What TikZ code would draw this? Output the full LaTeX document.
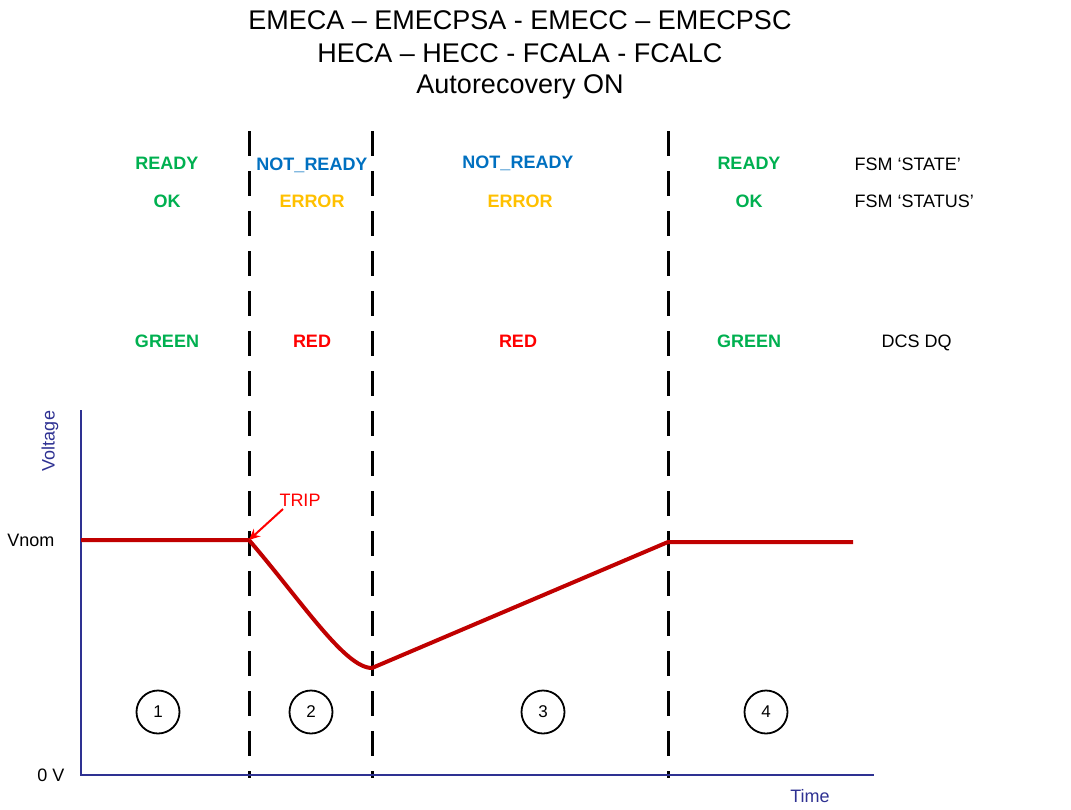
\documentclass[tikz,border=0pt]{standalone}
\usepackage{fontspec}
\setmainfont{Liberation Sans}
\usepackage{xcolor}
\usetikzlibrary{arrows.meta,positioning,calc}
\definecolor{stgreen}{HTML}{00B050}
\definecolor{stblue}{HTML}{0070C0}
\definecolor{storange}{HTML}{FFC000}
\definecolor{stred}{HTML}{FF0000}
\definecolor{curvered}{HTML}{C00000}
\definecolor{axisblue}{HTML}{2E3192}

\begin{document}
\begin{tikzpicture}[
    x=1pt, y=-1pt,
    title/.style={font=\fontsize{27}{30}\selectfont, text=black},
    state/.style={font=\fontsize{18}{20}\selectfont\bfseries},
    legend/.style={font=\fontsize{18}{20}\selectfont, anchor=west},
    axlabel/.style={font=\fontsize{18}{20}\selectfont},
    phase/.style={circle, draw, line width=1.8pt, minimum size=43pt, inner sep=0pt, font=\fontsize{17}{18}\selectfont},
    divider/.style={line width=3pt, dash pattern=on 25pt off 15pt},
    volt/.style={curvered, line width=4pt, line join=round},
    arrow/.style={-{Stealth[length=11pt, width=10pt]}}
]
    \useasboundingbox (0,0) rectangle (1071,809);

    % title
    \node[title] (t1) at (520,20) {EMECA – EMECPSA - EMECC – EMECPSC};
    \node[title] (t2) at (520,53) {HECA – HECC - FCALA - FCALC};
    \node[title] (t3) at (520,87) {Autorecovery ON};

    % phase dividers
    \coordinate (d1top) at (249,131); \coordinate (d1bot) at (249,778);
    \coordinate (d2top) at (372,131); \coordinate (d2bot) at (372,778);
    \coordinate (d3top) at (668,131); \coordinate (d3bot) at (668,778);
    \draw[divider] (d1top) -- (d1bot);
    \draw[divider] (d2top) -- (d2bot);
    \draw[divider] (d3top) -- (d3bot);

    % FSM state, status and DQ
    \node[state, text=stgreen] (st1) at (167,163) {READY};
    \node[state, text=stgreen] (ss1) at (167,201) {OK};
    \node[state, text=stgreen] (dq1) at (167,341) {GREEN};
    \node[state, text=stblue] (st2) at (312,165) {NOT\_READY};
    \node[state, text=storange] (ss2) at (312,201) {ERROR};
    \node[state, text=stred] (dq2) at (312,341) {RED};
    \node[state, text=stblue] (st3) at (518,163) {NOT\_READY};
    \node[state, text=storange] (ss3) at (520,201) {ERROR};
    \node[state, text=stred] (dq3) at (518,341) {RED};
    \node[state, text=stgreen] (st4) at (749,163) {READY};
    \node[state, text=stgreen] (ss4) at (749,201) {OK};
    \node[state, text=stgreen] (dq4) at (749,341) {GREEN};
    \node[legend] (lstate) at (851,164) {FSM ‘STATE’};
    \node[legend] (lstatus) at (851,201) {FSM ‘STATUS’};
    \node[legend] (ldq) at (878,343) {DCS DQ};

    % axes
    \coordinate (orig) at (81,775);
    \coordinate (ytop) at (81,410);
    \coordinate (xend) at (874,775);
    \draw[axisblue, line width=1.5pt] (ytop) -- (orig) -- (xend);
    \node[axlabel, text=axisblue, rotate=90] (ylab) at (50,441) {Voltage};
    \node[axlabel, text=axisblue] (xlab) at (810,796) {Time};
    \node[axlabel, anchor=east] (vnom) at (58,540) {Vnom};
    \node[axlabel, anchor=east] (zero) at (68,775) {0 V};

    % voltage curve
    \coordinate (p0) at (81,540);
    \coordinate (trip) at (249,540);
    \coordinate (low) at (372,668);
    \coordinate (back) at (668,542);
    \coordinate (p4) at (853,542);
    \draw[volt] (p0) -- (trip) .. controls (303,603) and (345,668) .. (low) -- (back) -- (p4);

    \node[axlabel, text=stred] (triplab) at (300,500) {TRIP};
    \coordinate (tripfrom) at (283,509);
    \draw[arrow, stred, line width=2pt] (tripfrom) -- (trip);

    % phase numbers
    \node[phase] (n1) at (158,712) {1};
    \node[phase] (n2) at (311,712) {2};
    \node[phase] (n3) at (543,712) {3};
    \node[phase] (n4) at (766,712) {4};
\end{tikzpicture}
\end{document}
